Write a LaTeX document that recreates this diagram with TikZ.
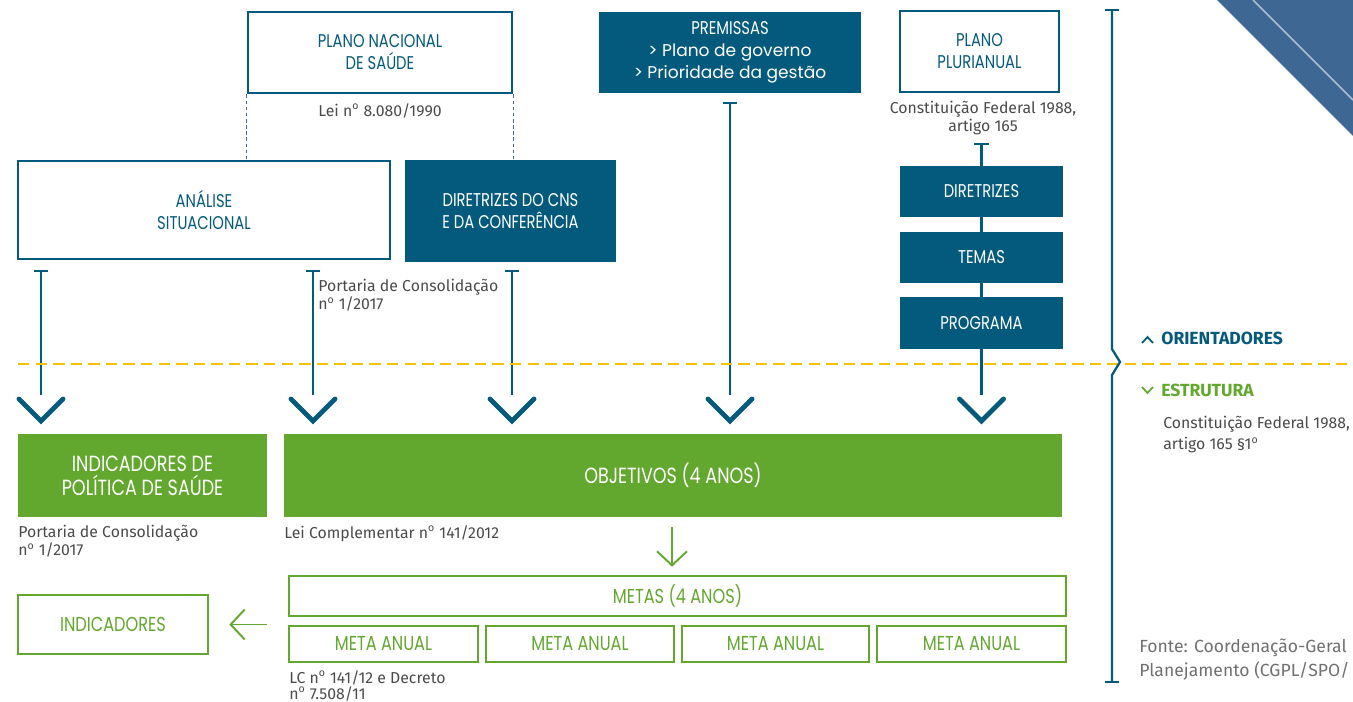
\documentclass[tikz,border=0pt]{standalone}
\usepackage{fontspec}
\setmainfont{Fira Sans}
\newfontfamily\boxfont[FakeStretch=0.8]{Poppins}
\newfontfamily\premfont{Poppins}
\usetikzlibrary{arrows.meta}
\definecolor{pnsblue}{HTML}{045A7C}
\definecolor{pnsgreen}{HTML}{63A82E}
\definecolor{divyellow}{HTML}{F6C200}
\definecolor{notegrey}{HTML}{4A4A4A}
\definecolor{fontegrey}{HTML}{707070}
\definecolor{cornerblue}{HTML}{3E6893}
\definecolor{cornerline}{HTML}{A9BCD1}
\definecolor{dashblue}{HTML}{4B5FA6}
\newcommand{\ordo}{\textsuperscript{o}}
\tikzset{
  outbox/.style={draw=pnsblue, line width=1.6pt, fill=white, text=pnsblue, align=center, inner sep=0pt, font=\boxfont\fontsize{10.5}{12.5}\selectfont},
  fillbox/.style={fill=pnsblue, text=white, align=center, inner sep=0pt, font=\boxfont\fontsize{10.5}{12.5}\selectfont},
  greenfill/.style={fill=pnsgreen, text=white, align=center, inner sep=0pt, font=\boxfont\fontsize{12.5}{13.6}\selectfont},
  greenout/.style={draw=pnsgreen, line width=1.5pt, fill=white, text=pnsgreen, align=center, inner sep=0pt, font=\boxfont\fontsize{11.5}{13}\selectfont},
  note/.style={text=notegrey, align=left, inner sep=0pt, font=\fontsize{9}{10.3}\selectfont},
  tee/.style={draw=pnsblue, line width=1.4pt, {Bar[width=8pt, line width=1.4pt]}-},
  chev/.style={draw=pnsblue, line width=2.8pt, line cap=round, line join=miter},
  garrow/.style={draw=pnsgreen, line width=1.1pt, -{Straight Barb[length=8pt, width=17pt, line width=1.1pt]}}
}
\begin{document}
\begin{tikzpicture}[x=0.02cm, y=-0.02cm]
\clip (0,0) rectangle (1353,701);
% corner decoration
\fill[cornerblue] (1217,0) -- (1353,0) -- (1353,136) -- cycle;
\draw[cornerline, line width=1pt] (1253,0) -- (1353,100);
% top row
\node[outbox, minimum width=5.28cm, minimum height=1.62cm] (pns) at (380,52.5) {PLANO NACIONAL\\DE SAÚDE};
\node[fillbox, minimum width=5.24cm, minimum height=1.62cm] (prem) at (730,52.5)
  {PREMISSAS\\{\premfont\fontsize{9.7}{12.5}\selectfont > Plano de governo}\\{\premfont\fontsize{9.7}{12.5}\selectfont > Prioridade da gestão}};
\node[outbox, minimum width=3.18cm, minimum height=1.62cm] (ppa) at (979.5,51.5) {PLANO\\PLURIANUAL};
\node[note, align=center] (lei) at (380,111) {Lei n\ordo{} 8.080/1990};
\node[note, align=center] (cf) at (983,118) {Constituição Federal 1988,\\artigo 165};
% second row
\node[outbox, minimum width=7.44cm, minimum height=1.96cm] (ana) at (204,210) {ANÁLISE\\SITUACIONAL};
\node[fillbox, minimum width=4.22cm, minimum height=2.04cm] (cns) at (510.5,211) {DIRETRIZES DO CNS\\E DA CONFERÊNCIA};
\draw[dashblue, line width=0.7pt, dash pattern=on 2pt off 1.5pt] (pns.south west) -- (pns.south west |- ana.north);
\draw[dashblue, line width=0.7pt, dash pattern=on 2pt off 1.5pt] (pns.south east) -- (pns.south east |- cns.north);
% plano plurianual chain
\node[fillbox, minimum width=3.26cm, minimum height=1.02cm] (dir) at (981.5,191.5) {DIRETRIZES};
\node[fillbox, minimum width=3.26cm, minimum height=1.02cm] (tem) at (981.5,257.5) {TEMAS};
\node[fillbox, minimum width=3.26cm, minimum height=1.04cm] (prog) at (981.5,323) {PROGRAMA};
\node[note, anchor=north west] (port1) at (318,279) {Portaria de Consolidação\\n\ordo{} 1/2017};
% tee lines
\coordinate (t1) at (41,270); \coordinate (t2) at (313,270); \coordinate (t3) at (512,270);
\coordinate (t4) at (730,102); \coordinate (t5) at (981.5,143);
\coordinate (e1) at (41,395); \coordinate (e2) at (313,395); \coordinate (e3) at (512,395);
\coordinate (e4) at (730,395); \coordinate (e5) at (981.5,395);
\draw[tee] (t1) -- (e1); \draw[tee] (t2) -- (e2); \draw[tee] (t3) -- (e3); \draw[tee] (t4) -- (e4);
\draw[tee] (t5) -- (dir.north);
\draw[pnsblue, line width=1.4pt] (dir.south) -- (tem.north);
\draw[pnsblue, line width=1.4pt] (tem.south) -- (prog.north);
\draw[pnsblue, line width=1.4pt] (prog.south) -- (e5);
\foreach \c in {e1,e2,e3,e4,e5}
  \draw[chev] ([shift={(-22,4)}]\c) -- ([shift={(0,26)}]\c) -- ([shift={(22,4)}]\c);
% divider and bracket
\draw[divyellow, line width=1.5pt, dash pattern=on 6.5pt off 3.5pt] (18,364) -- (1353,364);
\draw[pnsblue, line width=1.3pt] (1112,10) -- (1112,349) -- (1120,362) -- (1112,375) -- (1112,682);
\draw[pnsblue, line width=1.3pt] (1105,10) -- (1119,10);
\draw[pnsblue, line width=1.3pt] (1105,682) -- (1119,682);
\node[anchor=west, inner sep=0pt, text=pnsblue, font=\bfseries\fontsize{10}{12}\selectfont] (ori) at (1161,338) {ORIENTADORES};
\node[anchor=west, inner sep=0pt, text=pnsgreen, font=\bfseries\fontsize{10}{12}\selectfont] (est) at (1161,390) {ESTRUTURA};
\draw[pnsblue, line width=1pt] (1142,343) -- (1147.5,337) -- (1153,343);
\draw[pnsgreen, line width=1pt] (1142,387) -- (1147.5,393) -- (1153,387);
\node[note, anchor=north west, font=\fontsize{9}{12}\selectfont] (cf2) at (1163,416) {Constituição Federal 1988,\\artigo 165 §1\ordo};
\node[note, anchor=north west, text=fontegrey, font=\fontsize{10}{13.6}\selectfont] (fonte) at (1139,639) {Fonte: Coordenação-Geral\\Planejamento (CGPL/SPO/};
% estrutura
\node[greenfill, minimum width=4.98cm, minimum height=1.66cm] (ipol) at (142.5,475.5) {INDICADORES DE\\POLÍTICA DE SAÚDE};
\node[greenfill, minimum width=15.56cm, minimum height=1.66cm] (obj) at (673,475.5) {OBJETIVOS (4 ANOS)};
\node[note, anchor=north west] (port2) at (18,525) {Portaria de Consolidação\\n\ordo{} 1/2017};
\node[note, anchor=north west] (lc) at (284,525) {Lei Complementar n\ordo{} 141/2012};
\node[greenout, minimum width=15.54cm, minimum height=0.8cm] (metas) at (677.5,596) {METAS (4 ANOS)};
\node[greenout, minimum width=3.78cm, minimum height=0.72cm] (ma1) at (383.5,644) {META ANUAL};
\node[greenout, minimum width=3.76cm, minimum height=0.72cm] (ma2) at (580,644) {META ANUAL};
\node[greenout, minimum width=3.74cm, minimum height=0.72cm] (ma3) at (775.5,644) {META ANUAL};
\node[greenout, minimum width=3.78cm, minimum height=0.72cm] (ma4) at (971.5,644) {META ANUAL};
\node[note, anchor=north west, font=\fontsize{9}{9.2}\selectfont] (dec) at (289,670) {LC n\ordo{} 141/12 e Decreto\\n\ordo{} 7.508/11};
\node[greenout, minimum width=3.8cm, minimum height=1.18cm] (indic) at (113,624.5) {INDICADORES};
\draw[garrow, shorten <=0.2cm, shorten >=0.16cm] (obj.south -| 672,0) -- (metas.north -| 672,0);
\draw[garrow, shorten <=0.42cm, shorten >=0.4cm] (indic.east -| ma1.west) -- (indic.east);
\end{tikzpicture}
\end{document}
